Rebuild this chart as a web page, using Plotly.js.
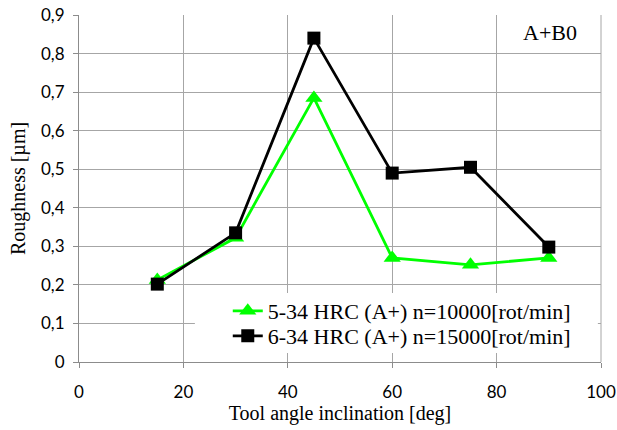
<!DOCTYPE html>
<html><head><meta charset="utf-8">
<script src="https://cdn.plot.ly/plotly-3.0.1.min.js"></script>
<style>html,body{margin:0;padding:0;background:#fff}#c{width:617px;height:430px}</style>
</head><body><div id="c"></div>
<script>
const angles = [15, 30, 45, 60, 75, 90];
const rough10000 = [0.213, 0.322, 0.685, 0.270, 0.252, 0.270];
const rough15000 = [0.202, 0.335, 0.840, 0.490, 0.505, 0.298];
const name10000 = "5-34 HRC (A+) n=10000[rot/min]";
const name15000 = "6-34 HRC (A+) n=15000[rot/min]";
const xTicks = [0, 20, 40, 60, 80, 100];
const yTicks = [0, 0.1, 0.2, 0.3, 0.4, 0.5, 0.6, 0.7, 0.8, 0.9];
const yTickText = ["0", "0,1", "0,2", "0,3", "0,4", "0,5", "0,6", "0,7", "0,8", "0,9"];

const legendFont = {family: "'Liberation Serif', serif", size: 22, color: "#000"};
const traces = [
  {x: angles, y: rough10000, name: name10000, mode: "lines+markers", type: "scatter", legend: "legend", showlegend: true,
   line: {color: "#00ff00", width: 2.8}, marker: {symbol: "triangle-up", size: 15, color: "#00ff00"}},
  {x: angles, y: rough15000, name: name15000, mode: "lines+markers", type: "scatter", legend: "legend2", showlegend: true,
   line: {color: "#000000", width: 2.8}, marker: {symbol: "square", size: 13, color: "#000000"}}
];
const layout = {
  width: 617, height: 430,
  showlegend: true,
  margin: {l: 79, r: 16, t: 15, b: 68},
  paper_bgcolor: "#fff", plot_bgcolor: "#fff",
  font: {family: "Lato, 'Noto Sans', sans-serif", size: 17, color: "#000"},
  xaxis: {range: [0, 100], tickvals: xTicks, ticktext: xTicks.map(String),
    showgrid: true, gridcolor: "#a6a6a6", gridwidth: 1, zeroline: false,
    showline: true, linecolor: "#8c8c8c", ticks: "outside", ticklen: 5, tickcolor: "#8c8c8c",
    tickfont: {size: 17}, ticklabelstandoff: 10,
    title: {text: "Tool angle inclination [deg]", font: {family: "'Liberation Serif', serif", size: 20}, standoff: 3}},
  yaxis: {range: [0, 0.9], tickvals: yTicks, ticktext: yTickText,
    showgrid: true, gridcolor: "#a6a6a6", gridwidth: 1, zeroline: false,
    showline: true, linecolor: "#8c8c8c", ticks: "outside", ticklen: 5, tickcolor: "#8c8c8c",
    tickfont: {size: 17}, ticklabelstandoff: 5,
    title: {text: "Roughness [µm]", font: {family: "'Liberation Serif', serif", size: 20}, standoff: 10}},
  legend: {x: 0.285, y: 0.2075, xanchor: "left", yanchor: "top", bgcolor: "rgba(0,0,0,0)", font: legendFont, visible: true},
  legend2: {x: 0.285, y: 0.1354, xanchor: "left", yanchor: "top", bgcolor: "rgba(0,0,0,0)", font: legendFont, visible: true},
  annotations: [{text: "A+B0", xref: "paper", yref: "paper", x: 0.902, y: 0.951,
    xanchor: "center", yanchor: "middle",
    showarrow: false, font: {family: "'Liberation Serif', serif", size: 22, color: "#000"}}],
  shapes: [
    {type: "rect", xref: "paper", yref: "paper", x0: 0.222, x1: 0.994, y0: 0.026, y1: 0.199,
     fillcolor: "#fff", line: {width: 0}, layer: "above"},
    {type: "line", xref: "paper", yref: "paper", x0: 1, x1: 1, y0: 0, y1: 1, line: {color: "#a6a6a6", width: 1}}
  ]
};
Plotly.newPlot("c", traces, layout, {displayModeBar: false, staticPlot: true});
</script></body></html>
